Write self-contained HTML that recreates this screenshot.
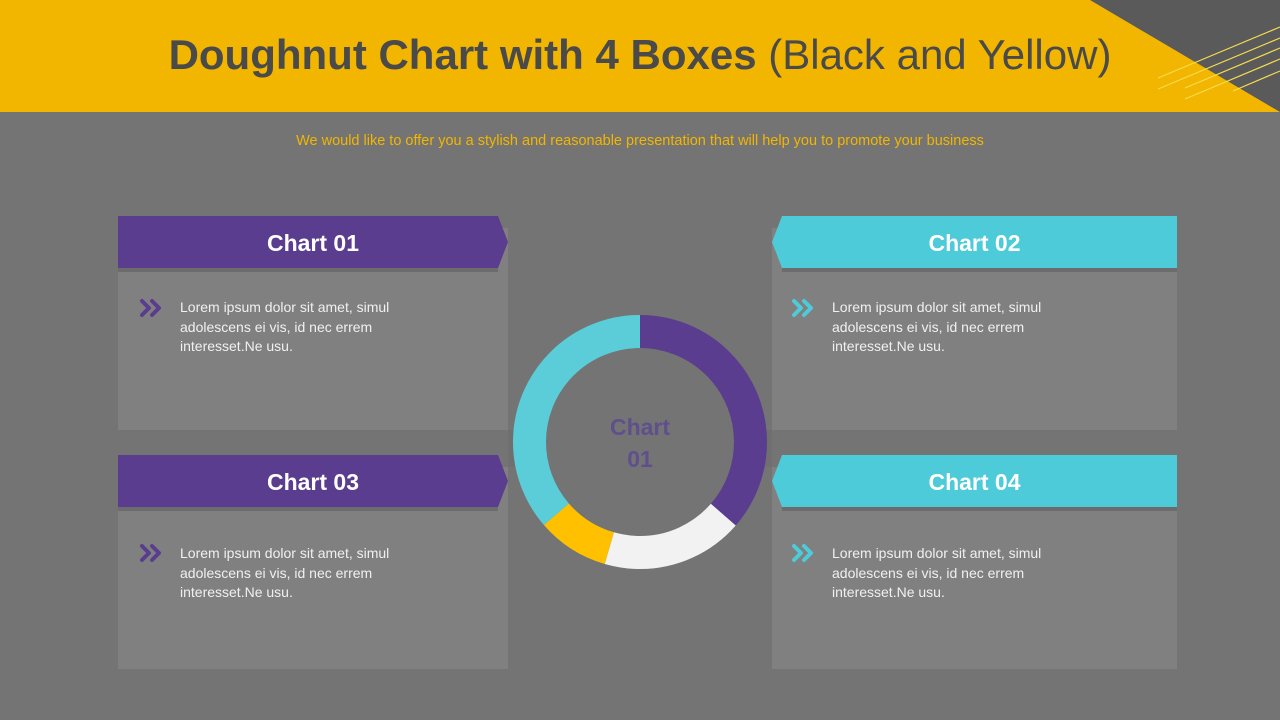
<!DOCTYPE html>
<html><head><meta charset="utf-8"><style>
body{margin:0;width:1280px;height:720px;overflow:hidden;background:#747474;font-family:"Liberation Sans",sans-serif;position:relative}
.a{position:absolute}
.txt{position:absolute;color:#f0f0f0;font-size:14px;line-height:19.5px}
.ban{position:absolute;color:#fff;font-weight:bold;font-size:23px;text-align:center;line-height:54px;height:52px}
</style></head><body>
<svg class="a" style="left:0;top:0" width="1280" height="720">
<rect x="0" y="0" width="1280" height="112" fill="#f2b600"/>
<polygon points="1090,0 1280,0 1280,112" fill="#5a5a5a"/>
<g stroke="#f5dc50" stroke-width="1.2">
<line x1="1158" y1="78" x2="1280" y2="27"/>
<line x1="1158" y1="89" x2="1280" y2="38"/>
<line x1="1185" y1="88" x2="1280" y2="48"/>
<line x1="1185" y1="99" x2="1280" y2="59"/>
<line x1="1233" y1="91" x2="1280" y2="71"/>
</g>
<rect x="508" y="430" width="264" height="37" fill="#6f6f6f"/>
<rect x="118" y="228" width="390" height="202" fill="#808080"/>
<rect x="118" y="467" width="390" height="202" fill="#808080"/>
<rect x="772" y="228" width="405" height="202" fill="#808080"/>
<rect x="772" y="467" width="405" height="202" fill="#808080"/>
<polygon points="118,216 498,216 508,242 498,268 118,268" fill="#5a3d8e"/>
<polygon points="118,455 498,455 508,481 498,507 118,507" fill="#5a3d8e"/>
<polygon points="782,216 1177,216 1177,268 782,268 772,242" fill="#4ecbd8"/>
<polygon points="782,455 1177,455 1177,507 782,507 772,481" fill="#4ecbd8"/>
<rect x="118" y="268" width="380" height="4" fill="#6c6c6c"/>
<rect x="118" y="507" width="380" height="4" fill="#6c6c6c"/>
<rect x="782" y="268" width="395" height="4" fill="#6c6c6c"/>
<rect x="782" y="507" width="395" height="4" fill="#6c6c6c"/>
<g fill="none" stroke-width="4" stroke-linecap="round" stroke-linejoin="round">
<path d="M142,301 l7,7 l-7,7 M152,301 l7,7 l-7,7" stroke="#5a3d8e"/>
<path d="M142,546 l7,7 l-7,7 M152,546 l7,7 l-7,7" stroke="#5a3d8e"/>
<path d="M794,301 l7,7 l-7,7 M804,301 l7,7 l-7,7" stroke="#4ecbd8"/>
<path d="M794,546 l7,7 l-7,7 M804,546 l7,7 l-7,7" stroke="#4ecbd8"/>
</g>
<circle cx="640" cy="442" r="94" fill="#747474"/>
<g transform="rotate(-90 640 442)" fill="none" stroke-width="33">
<circle cx="640" cy="442" r="110.5" stroke="#5a3d8e" stroke-dasharray="252.7 1000" stroke-dashoffset="0"/>
<circle cx="640" cy="442" r="110.5" stroke="#f2f2f2" stroke-dasharray="125.4 1000" stroke-dashoffset="-252.7"/>
<circle cx="640" cy="442" r="110.5" stroke="#ffc000" stroke-dasharray="63.7 1000" stroke-dashoffset="-378.1"/>
<circle cx="640" cy="442" r="110.5" stroke="#5bcdd9" stroke-dasharray="252.7 1000" stroke-dashoffset="-441.8"/>
</g>
</svg>
<div class="a" style="left:0;top:27px;width:1280px;text-align:center;font-size:42px;color:#4a4a4a;line-height:56px"><b>Doughnut Chart with 4 Boxes</b> (Black and Yellow)</div>
<div class="a" style="left:0;top:133px;width:1280px;text-align:center;font-size:14.5px;color:#f2b600">We would like to offer you a stylish and reasonable presentation that will help you to promote your business</div>
<div class="ban" style="left:118px;top:216px;width:390px">Chart 01</div>
<div class="ban" style="left:118px;top:455px;width:390px">Chart 03</div>
<div class="ban" style="left:772px;top:216px;width:405px">Chart 02</div>
<div class="ban" style="left:772px;top:455px;width:405px">Chart 04</div>
<div class="txt" style="left:180px;top:298px">Lorem ipsum dolor sit amet, simul<br>adolescens ei vis, id nec errem<br>interesset.Ne usu.</div>
<div class="txt" style="left:180px;top:544px">Lorem ipsum dolor sit amet, simul<br>adolescens ei vis, id nec errem<br>interesset.Ne usu.</div>
<div class="txt" style="left:832px;top:298px">Lorem ipsum dolor sit amet, simul<br>adolescens ei vis, id nec errem<br>interesset.Ne usu.</div>
<div class="txt" style="left:832px;top:544px">Lorem ipsum dolor sit amet, simul<br>adolescens ei vis, id nec errem<br>interesset.Ne usu.</div>
<div class="a" style="left:540px;top:411px;width:200px;text-align:center;color:#5f4f8c;font-weight:bold;font-size:23px;line-height:32px">Chart<br>01</div>
</body></html>
